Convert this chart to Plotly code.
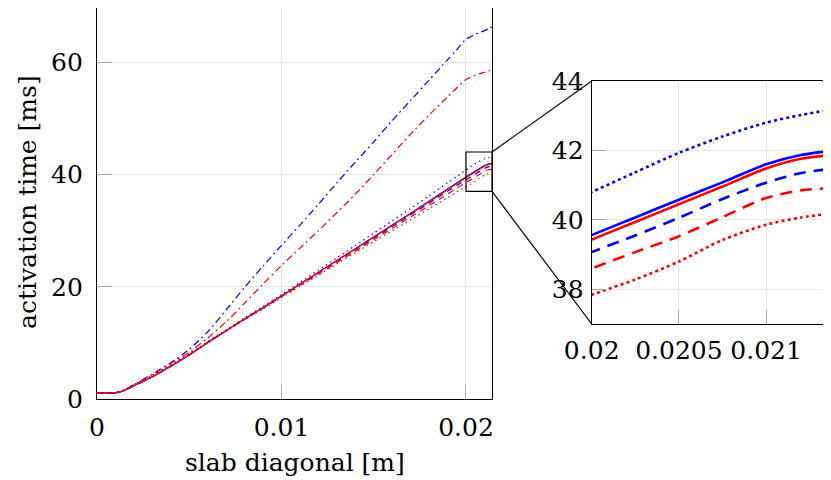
import plotly.graph_objects as go

# ---- data ----
slab_diagonal = [0, 0.0005, 0.001, 0.0015, 0.002, 0.003, 0.004, 0.005, 0.006, 0.007,
                 0.008, 0.009, 0.010, 0.011, 0.012, 0.013, 0.014, 0.015, 0.016, 0.017,
                 0.018, 0.019, 0.0195, 0.020, 0.02025, 0.0205, 0.02075, 0.021, 0.0212, 0.0214]

blue_dashdot = [1.15, 1.15, 1.15, 1.7, 2.6, 4.5, 6.5, 8.9, 12.0, 15.9,
                19.9, 23.7, 27.4, 31.0, 34.7, 38.5, 42.2, 45.8, 49.6, 53.2,
                56.8, 60.4, 62.2, 64.1, 64.5, 64.9, 65.25, 65.6, 65.9, 66.25]
red_dashdot = [1.15, 1.15, 1.15, 1.7, 2.6, 4.4, 6.4, 8.4, 10.9, 13.8,
               17.1, 20.5, 23.8, 26.9, 30.0, 33.2, 36.5, 40.0, 43.6, 47.2,
               50.6, 53.8, 55.4, 56.9, 57.3, 57.65, 57.95, 58.2, 58.4, 58.6]
blue_dotted = [1.15, 1.15, 1.15, 1.7, 2.6, 4.3, 6.15, 8.1, 10.25, 12.36,
               14.48, 16.5, 18.64, 20.8, 22.98, 25.17, 27.36, 29.56, 31.76, 33.97,
               36.23, 38.5, 39.65, 40.8, 41.37, 41.93, 42.4, 42.8, 43.02, 43.2]
red_dotted = [1.15, 1.15, 1.15, 1.65, 2.5, 4.15, 6.0, 7.95, 10.05, 12.1,
              14.15, 16.08, 18.08, 20.1, 22.09, 24.09, 26.08, 28.05, 29.99, 31.93,
              33.9, 35.9, 36.85, 37.84, 38.28, 38.8, 39.42, 39.86, 40.07, 40.2]
blue_dashed = [1.15, 1.15, 1.15, 1.6, 2.4, 4.0, 5.9, 7.9, 10.1, 12.2,
               14.3, 16.27, 18.35, 20.42, 22.48, 24.55, 26.6, 28.67, 30.73, 32.8,
               34.9, 37.0, 38.03, 39.07, 39.55, 40.06, 40.6, 41.07, 41.35, 41.48]
red_dashed = [1.15, 1.15, 1.15, 1.6, 2.4, 4.0, 5.9, 7.9, 10.1, 12.2,
              14.25, 16.2, 18.25, 20.28, 22.3, 24.33, 26.35, 28.38, 30.4, 32.43,
              34.45, 36.52, 37.55, 38.6, 39.07, 39.53, 40.08, 40.63, 40.85, 40.92]
blue_solid = [1.15, 1.15, 1.15, 1.6, 2.4, 4.0, 5.9, 7.9, 10.1, 12.2,
              14.3, 16.3, 18.4, 20.5, 22.6, 24.7, 26.8, 28.9, 31.0, 33.1,
              35.25, 37.4, 38.48, 39.56, 40.07, 40.58, 41.08, 41.6, 41.87, 42.0]
red_solid = [1.15, 1.15, 1.15, 1.6, 2.4, 4.0, 5.9, 7.9, 10.1, 12.2,
             14.3, 16.3, 18.38, 20.47, 22.56, 24.66, 26.76, 28.85, 30.94, 33.03,
             35.16, 37.3, 38.37, 39.43, 39.94, 40.45, 40.96, 41.48, 41.76, 41.88]

main_xticks = [0, 0.01, 0.02]
main_xticklabels = ["0", "0.01", "0.02"]
main_yticks = [0, 20, 40, 60]
inset_xticks = [0.02, 0.0205, 0.021]
inset_xticklabels = ["0.02", "0.0205", "0.021"]
inset_yticks = [38, 40, 42, 44]

main_xrange = [0, 0.02141]
inset_xrange = [0.02, 0.021372]
inset_yrange = [37, 44]

BLUE = "#0000ff"
RED = "#ff0000"
FONT = "DejaVu Serif"
FS = 25

series = [
    (blue_dashdot, BLUE, "dashdot"), (red_dashdot, RED, "dashdot"),
    (blue_dotted, BLUE, "dotted"), (red_dotted, RED, "dotted"),
    (blue_dashed, BLUE, "dashed"), (red_dashed, RED, "dashed"),
    (blue_solid, BLUE, "solid"), (red_solid, RED, "solid"),
]
main_dash = {"solid": "solid", "dashed": "6px,5px", "dotted": "1.5px,3.5px",
             "dashdot": "7px,3.5px,1.8px,3.5px"}
inset_dash = {"solid": "solid", "dashed": "12px,8px", "dotted": "3px,3.2px",
              "dashdot": "12px,5px,3px,5px"}

W, H = 831, 480
OFF = 8  # page body margin of the browser


def px_x(p):
    return (p - OFF) / W


def px_y(p):
    return 1 - (p - OFF) / H


# main axes: y=0 at pixel 399.3, 5.62 px per ms; frame top can be no higher than OFF
main_bottom_px, main_top_px = 399.3, 8.0
main_yrange = [0, (main_bottom_px - main_top_px) / 5.62]

main_xdom = [px_x(97), px_x(492)]
main_ydom = [px_y(main_bottom_px), px_y(main_top_px)]
inset_xdom = [px_x(591.7), px_x(831)]
inset_ydom = [px_y(324), px_y(81)]

fig = go.Figure()
for vals, col, sty in series:
    fig.add_trace(go.Scatter(x=slab_diagonal, y=vals, mode="lines", xaxis="x", yaxis="y",
                             line=dict(color=col, width=1.2, dash=main_dash[sty],
                                       shape="spline", smoothing=0.7),
                             showlegend=False, hoverinfo="skip"))
for vals, col, sty in series:
    if sty == "dashdot":
        continue
    fig.add_trace(go.Scatter(x=slab_diagonal, y=vals, mode="lines", xaxis="x2", yaxis="y2",
                             line=dict(color=col, width=2.6, dash=inset_dash[sty],
                                       shape="spline", smoothing=0.8),
                             showlegend=False, hoverinfo="skip"))

axis_common = dict(showline=True, linecolor="black", linewidth=1.2, ticks="inside",
                   ticklen=14, tickwidth=1.3, tickcolor="#a8a8a8", showgrid=True,
                   gridcolor="#e6e6e6", gridwidth=1, zeroline=False, automargin=False,
                   tickfont=dict(family=FONT, size=FS, color="black"))

fig.update_layout(
    template="none",
    width=W, height=H, autosize=False,
    margin=dict(l=0, r=0, t=0, b=0, pad=0),
    paper_bgcolor="white", plot_bgcolor="white",
    xaxis=dict(domain=main_xdom, range=main_xrange, tickvals=main_xticks,
               ticktext=main_xticklabels, mirror=True, anchor="y",
               ticklabelstandoff=6, **axis_common),
    yaxis=dict(domain=main_ydom, range=main_yrange, tickvals=main_yticks,
               mirror=True, anchor="x", ticklabelstandoff=8, **axis_common),
    xaxis2=dict(domain=inset_xdom, range=inset_xrange, tickvals=inset_xticks,
                ticktext=inset_xticklabels, mirror=True, anchor="y2",
                ticklabelstandoff=4, **axis_common),
    yaxis2=dict(domain=inset_ydom, range=inset_yrange, tickvals=inset_yticks,
                mirror=False, anchor="x2", ticklabelstandoff=2, **axis_common),
)


def to_paper(v, rng, dom):
    return dom[0] + (v - rng[0]) / (rng[1] - rng[0]) * (dom[1] - dom[0])


# zoom rectangle on main axes
fig.add_shape(type="rect", xref="x", yref="y", x0=inset_xrange[0], x1=main_xrange[1],
              y0=inset_yrange[0], y1=inset_yrange[1], line=dict(color="black", width=1.2))
# connectors
bx = to_paper(main_xrange[1], main_xrange, main_xdom)
for yv, iy in ((inset_yrange[1], inset_ydom[1]), (inset_yrange[0], inset_ydom[0])):
    by = to_paper(yv, main_yrange, main_ydom)
    fig.add_shape(type="line", xref="paper", yref="paper", x0=bx, y0=by,
                  x1=inset_xdom[0], y1=iy, line=dict(color="black", width=1.2))

fig.add_annotation(text="slab diagonal [m]", xref="paper", yref="paper",
                   x=(main_xdom[0] + main_xdom[1]) / 2, y=px_y(462),
                   xanchor="center", yanchor="middle", showarrow=False,
                   font=dict(family=FONT, size=FS, color="black"))
fig.add_annotation(text="activation time [ms]", xref="paper", yref="paper",
                   x=px_x(27), y=px_y(202), textangle=-90,
                   xanchor="center", yanchor="middle", showarrow=False,
                   font=dict(family=FONT, size=FS, color="black"))

fig.write_html("out.html")
